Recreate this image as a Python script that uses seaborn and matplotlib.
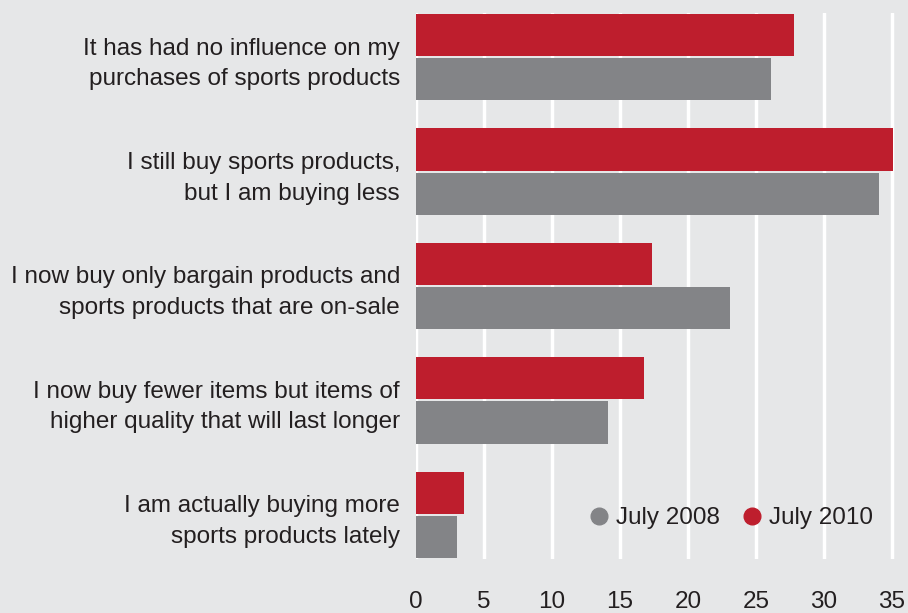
import pandas as pd
import matplotlib
matplotlib.use('Agg')
import matplotlib.pyplot as plt
from matplotlib.lines import Line2D
import seaborn as sns

# data (percent of respondents)
answers = [
    'It has had no influence on my\npurchases of sports products',
    'I still buy sports products,\nbut I am buying less',
    'I now buy only bargain products and\nsports products that are on-sale',
    'I now buy fewer items but items of\nhigher quality that will last longer',
    'I am actually buying more\nsports products lately',
]
july_2008 = [26.1, 34.1, 23.1, 14.1, 3.0]
july_2010 = [27.8, 35.1, 17.4, 16.8, 3.5]
x_ticks = [0, 5, 10, 15, 20, 25, 30, 35]

df = pd.DataFrame({
    'answer': answers * 2,
    'value': july_2010 + july_2008,
    'survey': ['July 2010'] * len(answers) + ['July 2008'] * len(answers),
})

bg = '#e6e7e8'
red = '#be1e2d'
grey = '#838487'
txt = '#231f20'

sns.set_theme(style='white')
plt.rcParams['font.family'] = ['Liberation Sans', 'DejaVu Sans']

fig = plt.figure(figsize=(9.08, 6.13), dpi=100, facecolor=bg)
ax = fig.add_axes([416 / 908, 1 - 559 / 613, 492 / 908, 546 / 613])
ax.set_facecolor(bg)

sns.barplot(
    data=df, x='value', y='answer', hue='survey',
    hue_order=['July 2010', 'July 2008'],
    palette={'July 2010': red, 'July 2008': grey},
    width=0.772, gap=0.045, saturation=1, legend=False, ax=ax, zorder=3,
    linewidth=0,
)

ax.set_xlim(0, 36.2)
ax.set_ylim(4.386, -0.386)
ax.set_xticks(x_ticks)
ax.set_yticks(range(len(answers)), labels=answers, linespacing=1.5)
ax.xaxis.grid(True, color='white', linewidth=2.5, zorder=1)
ax.set_axisbelow(True)
for s in ax.spines.values():
    s.set_visible(False)
ax.tick_params(axis='x', length=0, pad=23, labelsize=17.5, labelcolor=txt)
ax.tick_params(axis='y', length=0, pad=11.5, labelsize=17.5, labelcolor=txt)
ax.set_xlabel('')
ax.set_ylabel('')

handles = [
    Line2D([], [], marker='o', linestyle='', markersize=12, color=grey, label='July 2008'),
    Line2D([], [], marker='o', linestyle='', markersize=12, color=red, label='July 2010'),
]
ax.legend(handles=handles, loc='center', bbox_to_anchor=(0.638, 0.075), ncol=2,
          frameon=False, fontsize=17.5, labelcolor=txt, handletextpad=0.2,
          columnspacing=0.8, handlelength=1.0)

fig.savefig('out.png', dpi=100, facecolor=bg)
